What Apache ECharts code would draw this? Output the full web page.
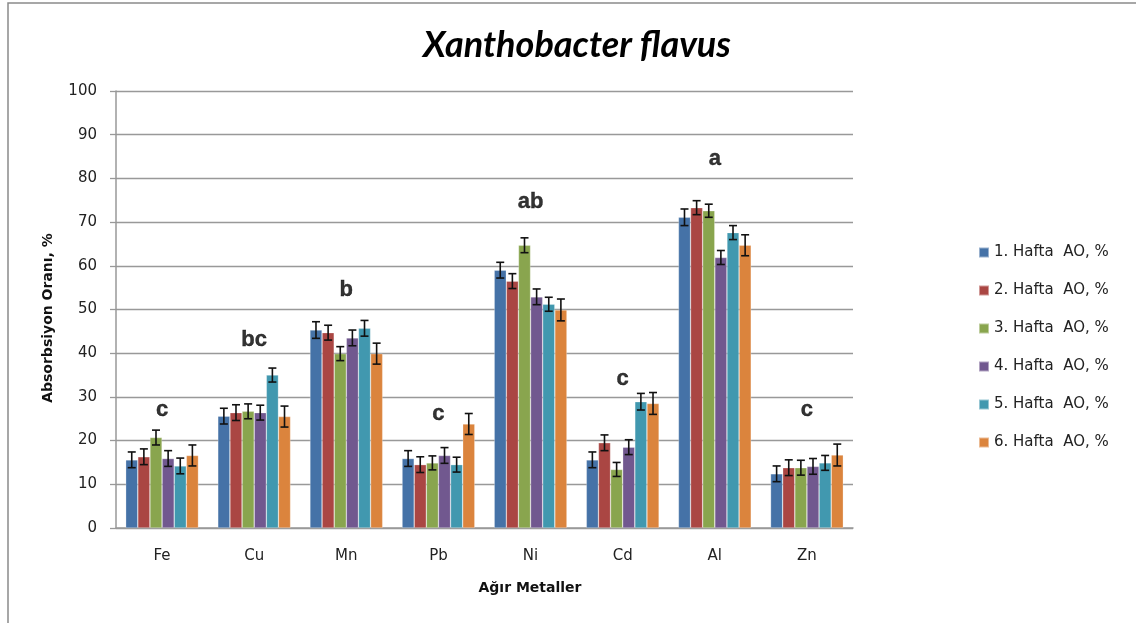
<!DOCTYPE html>
<html>
<head>
<meta charset="utf-8">
<script src="https://cdn.jsdelivr.net/npm/echarts@6/dist/echarts.min.js"></script>
<style>html,body{margin:0;padding:0;background:#fff;}#c{width:1136px;height:623px;}</style>
</head>
<body>
<div id="c"></div>
<script>
const categories = ['Fe', 'Cu', 'Mn', 'Pb', 'Ni', 'Cd', 'Al', 'Zn'];
const seriesNames = ['1. Hafta  AO, %', '2. Hafta  AO, %', '3. Hafta  AO, %', '4. Hafta  AO, %', '5. Hafta  AO, %', '6. Hafta  AO, %'];
const week1 = [15.6, 25.6, 45.3, 15.9, 59.0, 15.6, 71.1, 12.4];
const week2 = [16.3, 26.4, 44.7, 14.5, 56.5, 19.5, 73.3, 13.8];
const week3 = [20.7, 26.7, 39.9, 14.9, 64.7, 13.4, 72.6, 13.8];
const week4 = [15.9, 26.4, 43.5, 16.6, 52.9, 18.5, 61.9, 14.1];
const week5 = [14.2, 35.0, 45.7, 14.5, 51.2, 28.9, 67.6, 14.9];
const week6 = [16.6, 25.5, 39.9, 23.8, 49.9, 28.5, 64.7, 16.7];
const err1 = [1.8, 1.8, 1.9, 1.8, 1.8, 1.8, 1.9, 1.8];
const err2 = [1.8, 1.8, 1.7, 1.8, 1.7, 1.8, 1.6, 1.8];
const err3 = [1.7, 1.7, 1.6, 1.6, 1.7, 1.6, 1.5, 1.7];
const err4 = [1.8, 1.7, 1.8, 1.8, 1.8, 1.7, 1.6, 1.8];
const err5 = [1.8, 1.6, 1.8, 1.7, 1.6, 1.9, 1.6, 1.7];
const err6 = [2.4, 2.4, 2.4, 2.4, 2.5, 2.5, 2.4, 2.5];
const letters = ['c', 'bc', 'b', 'c', 'ab', 'c', 'a', 'c'];
const letterLevel = [27, 43, 54.5, 26, 74.5, 34, 84.5, 27];
const yTicks = { min: 0, max: 100, interval: 10 };

const values = [week1, week2, week3, week4, week5, week6];
const errors = [err1, err2, err3, err4, err5, err6];
const colors = ['#4572A7', '#AA4643', '#89A54E', '#71588F', '#4198AF', '#DB843D'];
const catGap = 0.21;
const FONT = '"DejaVu Sans", Verdana, sans-serif';

const barSeries = seriesNames.map((n, s) => ({
  name: n,
  type: 'bar',
  data: values[s],
  barGap: '0%',
  barCategoryGap: (catGap * 100) + '%',
  itemStyle: { color: colors[s], borderColor: 'rgba(255,255,255,0.45)', borderWidth: 0.6 },
  emphasis: { disabled: true },
  z: 2
}));

const errData = [];
values.forEach((arr, s) => arr.forEach((v, i) => errData.push([i, v, errors[s][i], s])));

const errSeries = {
  type: 'custom',
  name: 'err',
  data: errData,
  z: 5,
  silent: true,
  renderItem: function (params, api) {
    const cat = api.value(0), val = api.value(1), e = api.value(2), s = api.value(3);
    const c = api.coord([cat, val]);
    const band = api.size([1, 0])[0];
    const groupW = band * (1 - catGap);
    const bw = groupW / 6;
    const x = c[0] - groupW / 2 + bw * (s + 0.5);
    const yt = api.coord([cat, val + e])[1];
    const yb = api.coord([cat, val - e])[1];
    const cap = 4;
    const st = { stroke: '#111', lineWidth: 1.6 };
    return {
      type: 'group',
      children: [
        { type: 'line', shape: { x1: x, y1: yt, x2: x, y2: yb }, style: st },
        { type: 'line', shape: { x1: x - cap, y1: yt, x2: x + cap, y2: yt }, style: st },
        { type: 'line', shape: { x1: x - cap, y1: yb, x2: x + cap, y2: yb }, style: st }
      ]
    };
  }
};

const letterSeries = {
  type: 'scatter',
  name: 'letters',
  symbolSize: 0,
  silent: true,
  z: 6,
  data: letters.map((l, i) => [i, letterLevel[i]]),
  label: {
    show: true,
    position: 'inside',
    formatter: p => letters[p.dataIndex],
    fontFamily: '"Liberation Sans", Arial, sans-serif',
    fontWeight: 'bold',
    fontSize: 22,
    color: '#000',
    textBorderWidth: 0.4,
    textBorderColor: '#000'
  }
};

const chart = echarts.init(document.getElementById('c'), null, { renderer: 'canvas' });
chart.setOption({
  animation: false,
  backgroundColor: '#fff',
  title: {
    text: 'Xanthobacter flavus',
    left: 572,
    textAlign: 'center',
    top: 22,
    textStyle: { fontFamily: 'Lato, "Open Sans", sans-serif', fontStyle: 'italic', fontWeight: 'bold', fontSize: 36, color: '#000' }
  },
  legend: {
    data: seriesNames,
    orient: 'vertical',
    left: 973,
    top: 240,
    itemWidth: 10,
    itemHeight: 10,
    itemGap: 23,
    icon: 'rect',
    textStyle: { fontFamily: FONT, fontSize: 15, color: '#222' }
  },
  grid: { left: 116, right: 283, top: 91, bottom: 95, containLabel: false },
  xAxis: {
    type: 'category',
    data: categories,
    axisLine: { lineStyle: { color: '#999', width: 1.5 } },
    axisTick: { show: false },
    axisLabel: { fontFamily: FONT, fontSize: 15, color: '#222', margin: 21 }
  },
  yAxis: {
    type: 'value',
    min: yTicks.min, max: yTicks.max, interval: yTicks.interval,
    axisLine: { show: true, lineStyle: { color: '#999', width: 1.5 } },
    axisTick: { show: true, length: 6, lineStyle: { color: '#999', width: 1.3 } },
    axisLabel: { fontFamily: FONT, fontSize: 15, color: '#222', margin: 19 },
    splitLine: { lineStyle: { color: '#999', width: 1.4 } }
  },
  graphic: [
    { type: 'rect', shape: { x: 8, y: 3, width: 1200, height: 700 }, style: { fill: 'none', stroke: '#8a8a8a', lineWidth: 1.5 }, silent: true },
    { type: 'text', x: 48, y: 318, rotation: Math.PI / 2, style: { text: 'Absorbsiyon Oranı, %', font: 'bold 14px "DejaVu Sans", Verdana, sans-serif', fill: '#111', align: 'center', verticalAlign: 'middle' } },
    { type: 'text', x: 530, y: 588, style: { text: 'Ağır Metaller', font: 'bold 14px "DejaVu Sans", Verdana, sans-serif', fill: '#111', align: 'center', verticalAlign: 'middle' } }
  ],
  series: [...barSeries, errSeries, letterSeries]
});
</script>
</body>
</html>
